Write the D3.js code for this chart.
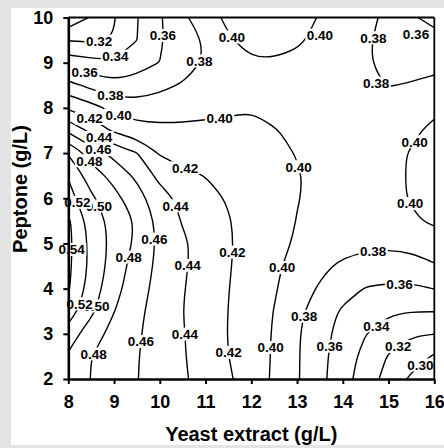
<!DOCTYPE html>
<html>
<head>
<meta charset="utf-8">
<script src="https://cdn.jsdelivr.net/npm/d3@7"></script>
<style>
  html, body { margin: 0; padding: 0; background: #e4e4e4; }
  svg { display: block; }
</style>
</head>
<body>
<svg id="chart" width="444" height="448"></svg>
<script>
// Grid of the design: yeast extract (columns) and peptone (rows, top to bottom), g/L
const yeastExtract = [8, 8.5, 9, 9.5, 10, 10.5, 11, 11.5, 12, 12.5, 13, 13.5, 14, 14.5, 15, 15.5, 16];
const peptone = [10, 9.5, 9, 8.5, 8, 7.5, 7, 6.5, 6, 5.5, 5, 4.5, 4, 3.5, 3, 2.5, 2];

// Response surface values, one row per peptone level
const response = [
  [0.285, 0.302, 0.319, 0.339, 0.358, 0.376, 0.392, 0.404, 0.410, 0.410, 0.406, 0.399, 0.392, 0.386, 0.375, 0.362, 0.355],
  [0.319, 0.317, 0.321, 0.3398, 0.358, 0.370, 0.382, 0.398, 0.406, 0.407, 0.403, 0.395, 0.388, 0.382, 0.375, 0.369, 0.366],
  [0.351, 0.346, 0.342, 0.352, 0.3602, 0.369, 0.382, 0.390, 0.398, 0.398, 0.395, 0.390, 0.386, 0.381, 0.377, 0.375, 0.374],
  [0.3867, 0.3746, 0.366, 0.368, 0.375, 0.382, 0.385, 0.388, 0.390, 0.392, 0.390, 0.387, 0.385, 0.383, 0.3795, 0.381, 0.385],
  [0.417, 0.407, 0.394, 0.389, 0.390, 0.393, 0.396, 0.398, 0.399, 0.397, 0.396, 0.394, 0.392, 0.390, 0.390, 0.393, 0.396],
  [0.456, 0.435, 0.4167, 0.408, 0.405, 0.404, 0.4035, 0.403, 0.405, 0.4005, 0.398, 0.395, 0.393, 0.392, 0.393, 0.397, 0.404],
  [0.498, 0.471, 0.454, 0.4405, 0.418, 0.414, 0.412, 0.409, 0.406, 0.403, 0.3995, 0.397, 0.394, 0.393, 0.396, 0.401, 0.405],
  [0.5185, 0.490, 0.4736, 0.456, 0.4344, 0.4238, 0.4195, 0.4145, 0.410, 0.406, 0.4008, 0.397, 0.394, 0.393, 0.396, 0.4015, 0.406],
  [0.5275, 0.5035, 0.486, 0.468, 0.448, 0.435, 0.4265, 0.4185, 0.413, 0.407, 0.4005, 0.397, 0.394, 0.393, 0.396, 0.401, 0.405],
  [0.5435, 0.5114, 0.4932, 0.478, 0.4533, 0.4386, 0.4297, 0.4209, 0.4137, 0.4066, 0.3996, 0.396, 0.393, 0.392, 0.395, 0.398, 0.4025],
  [0.545, 0.5143, 0.4935, 0.476, 0.4557, 0.443, 0.4321, 0.4217, 0.4133, 0.4053, 0.398, 0.393, 0.388, 0.385, 0.384, 0.386, 0.3914],
  [0.544, 0.5149, 0.4909, 0.4709, 0.455, 0.4425, 0.4317, 0.4213, 0.4121, 0.4031, 0.3939, 0.3846, 0.376, 0.371, 0.3698, 0.3716, 0.3782],
  [0.542, 0.5108, 0.487, 0.4679, 0.4533, 0.4412, 0.4307, 0.4204, 0.411, 0.4017, 0.3898, 0.3777, 0.3674, 0.359, 0.357, 0.3567, 0.3603],
  [0.531, 0.504, 0.4805, 0.4644, 0.4517, 0.4402, 0.4302, 0.4198, 0.4101, 0.3995, 0.3848, 0.3697, 0.3574, 0.3501, 0.3425, 0.3405, 0.3405],
  [0.510, 0.4894, 0.4736, 0.4623, 0.4516, 0.4411, 0.4302, 0.4194, 0.4098, 0.3984, 0.3823, 0.3668, 0.353, 0.3405, 0.3289, 0.3215, 0.3205],
  [0.4975, 0.4802, 0.4705, 0.461, 0.4513, 0.4416, 0.4309, 0.4202, 0.4094, 0.3981, 0.3819, 0.3658, 0.3497, 0.3338, 0.3186, 0.3084, 0.298],
  [0.489, 0.4796, 0.4701, 0.4606, 0.4515, 0.4425, 0.4327, 0.4225, 0.4104, 0.3972, 0.3818, 0.3653, 0.3479, 0.330, 0.3129, 0.2968, 0.283]
];

// Contour levels
const levels = [0.30, 0.32, 0.34, 0.36, 0.38, 0.40, 0.42, 0.44, 0.46, 0.48, 0.50, 0.52, 0.54];

// Axis ticks
const xTicks = [8, 9, 10, 11, 12, 13, 14, 15, 16];
const yTicks = [2, 3, 4, 5, 6, 7, 8, 9, 10];

// Where each contour level is labelled: [level, yeast extract, peptone]
const contourLabels = [
  [0.32, 8.67, 9.44], [0.34, 9.04, 9.08], [0.36, 8.34, 8.77], [0.36, 10.07, 9.61],
  [0.38, 8.91, 8.28], [0.38, 10.83, 9.06], [0.40, 11.62, 9.61], [0.40, 13.50, 9.61],
  [0.38, 14.64, 9.55], [0.36, 15.60, 9.63], [0.38, 14.73, 8.55],
  [0.40, 9.09, 7.84], [0.42, 8.47, 7.78], [0.40, 11.32, 7.66], [0.44, 8.65, 7.33],
  [0.46, 8.61, 6.96], [0.48, 8.37, 6.76], [0.42, 10.55, 6.69], [0.40, 13.02, 6.69],
  [0.40, 15.58, 7.24], [0.40, 15.47, 5.89], [0.50, 8.67, 5.83], [0.52, 8.19, 5.89],
  [0.44, 10.33, 5.81], [0.54, 8.08, 4.88], [0.46, 9.79, 5.08], [0.48, 9.24, 4.72],
  [0.44, 10.64, 4.52], [0.42, 11.58, 4.81], [0.40, 12.67, 4.48], [0.38, 14.66, 4.92],
  [0.36, 15.25, 4.12], [0.50, 8.67, 3.59], [0.52, 8.19, 3.70], [0.48, 8.56, 2.55],
  [0.46, 9.57, 2.82], [0.44, 10.51, 3.00], [0.42, 11.51, 2.60], [0.40, 12.34, 2.71],
  [0.38, 13.17, 3.37], [0.36, 13.72, 2.73], [0.34, 14.68, 3.26], [0.32, 15.14, 2.82],
  [0.30, 15.62, 2.40]
];

const FONT = "'Liberation Sans', Arial, Helvetica, sans-serif";

const svg = d3.select('#chart');

// white sheet
svg.append('rect').attr('x', 11).attr('y', 8).attr('width', 433).attr('height', 437).attr('fill', '#fff');

const x = d3.scaleLinear().domain([8, 16]).range([68.3, 434.3]);
const y = d3.scaleLinear().domain([2, 10]).range([379, 17.5]);

const nx = yeastExtract.length, ny = peptone.length;
const colToX = d3.scaleLinear().domain([0, nx - 1]).range([yeastExtract[0], yeastExtract[nx - 1]]);
const rowToY = d3.scaleLinear().domain([0, ny - 1]).range([peptone[0], peptone[ny - 1]]);

svg.append('defs').append('clipPath').attr('id', 'plotClip').append('rect')
  .attr('x', x(8)).attr('y', y(10)).attr('width', x(16) - x(8)).attr('height', y(2) - y(10));

// Break a contour ring into the open pieces that lie inside the grid
function splitRing(ring) {
  let pts = ring.slice();
  const a = pts[0], b = pts[pts.length - 1];
  if (a[0] === b[0] && a[1] === b[1]) pts.pop();
  const onEdge = p => p[0] <= 0 || p[0] >= nx || p[1] <= 0 || p[1] >= ny;
  const start = pts.findIndex(onEdge);
  if (start < 0) return [{ closed: true, pts }];
  pts = pts.slice(start).concat(pts.slice(0, start));
  const runs = [];
  let cur = [];
  for (const p of pts) {
    if (onEdge(p)) { if (cur.length > 1) runs.push({ closed: false, pts: cur }); cur = []; }
    else cur.push(p);
  }
  if (cur.length > 1) runs.push({ closed: false, pts: cur });
  return runs;
}

const lineOpen = d3.line().curve(d3.curveBasis);
const lineClosed = d3.line().curve(d3.curveBasisClosed);

const contourSets = d3.contours().size([nx, ny]).thresholds(levels)(response.flat());
const linesG = svg.append('g').attr('clip-path', 'url(#plotClip)');
const drawn = [];
contourSets.forEach(c => {
  c.coordinates.forEach(poly => poly.forEach(ring => {
    splitRing(ring).forEach(run => {
      const pts = run.pts.map(p => [x(colToX(p[0] - 0.5)), y(rowToY(p[1] - 0.5))]);
      const path = linesG.append('path')
        .attr('d', (run.closed ? lineClosed : lineOpen)(pts))
        .attr('fill', 'none').attr('stroke', '#000').attr('stroke-width', 1.4);
      drawn.push({ level: c.value, node: path.node() });
    });
  }));
});

// sample the drawn lines so labels can sit on them
const samples = [];
drawn.forEach(d => {
  const len = d.node.getTotalLength();
  for (let s = 0; s <= len; s += 1.5) {
    const p = d.node.getPointAtLength(s);
    samples.push({ level: d.level, x: p.x, y: p.y });
  }
});

const fmt = d3.format('.2f');
const labelsG = svg.append('g');
contourLabels.forEach(([lv, xv, yv]) => {
  let px = x(xv), py = y(yv);
  let best = null, bd = Infinity;
  samples.forEach(s => {
    if (Math.abs(s.level - lv) > 1e-6) return;
    const d = (s.x - px) ** 2 + (s.y - py) ** 2;
    if (d < bd) { bd = d; best = s; }
  });
  if (best && bd < 36) { px = best.x; py = best.y; }
  const g = labelsG.append('g').attr('transform', `translate(${px},${py})`);
  const bg = g.append('rect').attr('fill', '#fff');
  const t = g.append('text').text(fmt(lv))
    .attr('text-anchor', 'middle').attr('dy', '0.36em')
    .attr('font-family', FONT).attr('font-weight', 'bold').attr('font-size', 13.5)
    .attr('fill', '#000');
  const w = t.node().getComputedTextLength();
  bg.attr('x', -w / 2 - 1.5).attr('y', -6.5).attr('width', w + 3).attr('height', 13);
});

// frame
svg.append('line').attr('x1', x(8)).attr('x2', x(16)).attr('y1', y(10)).attr('y2', y(10))
  .attr('stroke', '#000').attr('stroke-width', 1.8);
svg.append('line').attr('x1', x(16)).attr('x2', x(16)).attr('y1', y(10)).attr('y2', y(2))
  .attr('stroke', '#000').attr('stroke-width', 1.8);

// axes
const gx = svg.append('g').attr('transform', `translate(0,${y(2)})`)
  .call(d3.axisBottom(x).tickValues(xTicks).tickSize(5).tickSizeOuter(0).tickPadding(11).tickFormat(d3.format('d')));
const gy = svg.append('g').attr('transform', `translate(${x(8)},0)`)
  .call(d3.axisLeft(y).tickValues(yTicks).tickSize(5).tickSizeOuter(0).tickPadding(10).tickFormat(d3.format('d')));
[gx, gy].forEach(g => {
  g.attr('font-family', FONT).attr('font-size', 18).attr('font-weight', 'bold');
  g.select('.domain').attr('stroke', '#000').attr('stroke-width', 2.6);
  g.selectAll('.tick line').attr('stroke', '#000').attr('stroke-width', 2);
  g.selectAll('.tick text').attr('fill', '#000');
});

// axis titles
svg.append('text').text('Yeast extract (g/L)')
  .attr('x', (x(8) + x(16)) / 2).attr('y', 441).attr('text-anchor', 'middle')
  .attr('font-family', FONT).attr('font-weight', 'bold').attr('font-size', 20).attr('fill', '#000');
svg.append('text').text('Peptone (g/L)')
  .attr('transform', 'translate(26.5,189) rotate(-90)').attr('text-anchor', 'middle')
  .attr('font-family', FONT).attr('font-weight', 'bold').attr('font-size', 20).attr('fill', '#000');
</script>
</body>
</html>
